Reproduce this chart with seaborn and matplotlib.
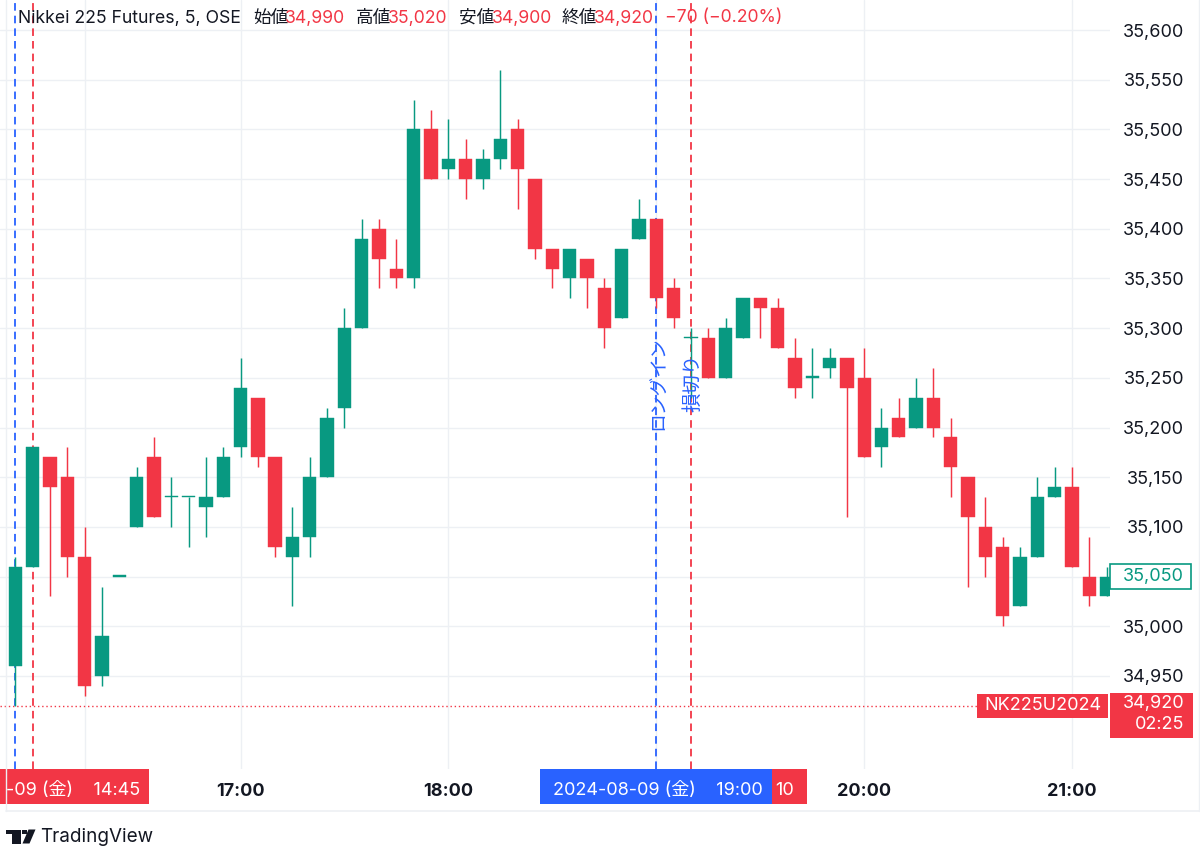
import numpy as np
import pandas as pd
import seaborn as sns
import matplotlib
matplotlib.use("Agg")
import matplotlib.pyplot as plt
from matplotlib.patches import Rectangle, Polygon
from matplotlib.transforms import blended_transform_factory

# ---------------- data ----------------
times = ["14:40", "14:45", "14:50", "14:55", "15:00", "15:05", "15:10",
         "16:30", "16:35", "16:40", "16:45", "16:50", "16:55",
         "17:00", "17:05", "17:10", "17:15", "17:20", "17:25", "17:30", "17:35", "17:40", "17:45", "17:50", "17:55",
         "18:00", "18:05", "18:10", "18:15", "18:20", "18:25", "18:30", "18:35", "18:40", "18:45", "18:50", "18:55",
         "19:00", "19:05", "19:10", "19:15", "19:20", "19:25", "19:30", "19:35", "19:40", "19:45", "19:50", "19:55",
         "20:00", "20:05", "20:10", "20:15", "20:20", "20:25", "20:30", "20:35", "20:40", "20:45", "20:50", "20:55",
         "21:00", "21:05", "21:10"]
opens = [34960, 35060, 35170, 35150, 35070, 34950, 35050,
         35100, 35170, 35130, 35130, 35120, 35130,
         35180, 35230, 35170, 35070, 35090, 35150, 35220, 35300, 35400, 35360, 35350, 35500,
         35460, 35470, 35450, 35470, 35500, 35450, 35380, 35350, 35370, 35340, 35310, 35390,
         35410, 35340, 35290, 35290, 35250, 35290, 35330, 35320, 35270, 35250, 35260, 35270,
         35250, 35180, 35210, 35200, 35230, 35190, 35150, 35100, 35080, 35020, 35070, 35130,
         35140, 35050, 35030]
highs = [35070, 35180, 35170, 35180, 35100, 35040, 35050,
         35160, 35190, 35150, 35130, 35170, 35180,
         35270, 35230, 35170, 35120, 35170, 35220, 35320, 35410, 35410, 35390, 35530, 35520,
         35510, 35490, 35480, 35560, 35510, 35450, 35380, 35380, 35370, 35350, 35380, 35430,
         35410, 35350, 35300, 35300, 35310, 35330, 35330, 35330, 35290, 35280, 35280, 35270,
         35280, 35220, 35230, 35250, 35260, 35210, 35150, 35130, 35090, 35080, 35150, 35160,
         35160, 35090, 35060]
lows = [34920, 35060, 35030, 35050, 34930, 34940, 35050,
        35100, 35110, 35100, 35080, 35090, 35130,
        35170, 35160, 35070, 35020, 35070, 35150, 35200, 35300, 35340, 35340, 35340, 35450,
        35450, 35430, 35440, 35460, 35420, 35370, 35340, 35330, 35320, 35280, 35310, 35390,
        35320, 35300, 35230, 35250, 35250, 35290, 35290, 35280, 35230, 35230, 35250, 35110,
        35170, 35160, 35190, 35200, 35190, 35130, 35040, 35050, 35000, 35020, 35070, 35130,
        35060, 35020, 35030]
closes = [35060, 35180, 35140, 35070, 34940, 34990, 35050,
          35150, 35110, 35130, 35130, 35130, 35170,
          35240, 35170, 35080, 35090, 35150, 35210, 35300, 35390, 35370, 35350, 35500, 35450,
          35470, 35450, 35470, 35490, 35460, 35380, 35360, 35380, 35350, 35300, 35380, 35410,
          35330, 35310, 35290, 35250, 35300, 35330, 35320, 35280, 35240, 35250, 35270, 35240,
          35170, 35200, 35190, 35230, 35200, 35160, 35110, 35070, 35010, 35070, 35130, 35140,
          35060, 35030, 35050]

price_ticks = [34950, 35000, 35050, 35100, 35150, 35200, 35250, 35300,
               35350, 35400, 35450, 35500, 35550, 35600]
hour_labels = ["17:00", "18:00", "20:00", "21:00"]
grid_times = ["15:00", "17:00", "18:00", "19:00", "20:00", "21:00"]

header_title = "Nikkei 225 Futures, 5, OSE"
header_names = ["始値", "高値", "安値", "終値"]
header_values = ["34,990", "35,020", "34,900", "34,920"]
header_change = "−70 (−0.20%)"

long_in_time, long_in_text = "19:00", "ロングイン"
stop_time, stop_text = "19:10", "損切り"
first_blue_time, first_red_time = "14:40", "14:45"
date_text = "2024-08-09 (金)"
left_box_text = "-09 (金)    14:45"
stop_box_visible = "10"
last_price = 34920
last_price_text = "34,920"
countdown = "02:25"
symbol = "NK225U2024"
marker_price = 35050
marker_text = "35,050"

# ---------------- style ----------------
sns.set_theme(style="white")
plt.rcParams["font.family"] = ["Inter", "Noto Sans CJK JP", "DejaVu Sans"]

GREEN = "#089981"
RED = "#F23645"
BLUE = "#2962FF"
DARK = "#131722"
GRID = "#EDF0F4"

W, H = 1200, 863
fig = plt.figure(figsize=(W / 100, H / 100), dpi=100)
fig.patch.set_facecolor("white")

def fx(x):
    return x / W

def fy(y):
    return 1 - y / H

ax = fig.add_axes([0, fy(769), fx(1110), 769 / H])
ax.set_facecolor("white")

df = pd.DataFrame({"time": times, "open": opens, "high": highs,
                   "low": lows, "close": closes})
df["idx"] = np.arange(len(df))
df["up"] = df["close"] >= df["open"]
df["color"] = np.where(df["up"], GREEN, RED)
pos = {t: i for i, t in enumerate(times)}

ax.set_xlim(-0.883, 63.19)
ax.set_ylim(34856.4, 35630.2)

# grid
for p in price_ticks:
    ax.axhline(p, color=GRID, lw=1.0, zorder=0)
for t in grid_times:
    ax.axvline(pos[t], color=GRID, lw=1.0, zorder=0)

# vertical marker lines (behind candles)
dash = (0, (4.2, 2.8))
for t in (first_blue_time, long_in_time):
    ax.axvline(pos[t], color=BLUE, lw=1.3, linestyle=dash, zorder=1)
for t in (first_red_time, stop_time):
    ax.axvline(pos[t], color=RED, lw=1.3, linestyle=dash, zorder=1)

# last price dotted line
ax.axhline(last_price, xmin=0, xmax=977 / 1110, color=RED, lw=1.0,
           linestyle=(0, (1, 2)), zorder=2)

# candles
ax.vlines(df["idx"], df["low"], df["high"], colors=df["color"], lw=1.05, zorder=3)
body_bottom = np.minimum(df["open"], df["close"])
body_h = np.maximum(np.abs(df["close"] - df["open"]), 1.4)
ax.bar(df["idx"], body_h, bottom=body_bottom, width=0.77, color=df["color"],
       edgecolor=df["color"], linewidth=0.3, zorder=4)

# rotated labels
ax.text(pos[long_in_time] + 0.22, 35245, long_in_text, rotation=90, color=BLUE,
        fontsize=13.5, ha="center", va="center", zorder=6)
ax.text(pos[stop_time] + 0.12, 35245, stop_text, rotation=90, color=BLUE,
        fontsize=14, ha="center", va="center", zorder=6)

# right price scale
ax.yaxis.tick_right()
ax.set_yticks(price_ticks)
ax.set_yticklabels([f"{p:,}" for p in price_ticks])
ax.tick_params(axis="y", length=0, pad=53.3, labelsize=13, labelcolor=DARK)
for lbl in ax.get_yticklabels():
    lbl.set_horizontalalignment("right")
ax.set_xticks([])
for s in ax.spines.values():
    s.set_visible(False)

bt_ax = blended_transform_factory(ax.transAxes, ax.transData)
bt_x = blended_transform_factory(ax.transData, ax.transAxes)

# price-axis markers
ax.add_patch(Rectangle((1.0, marker_price - 12), 1191 / 1110 - 1.0, 24.5,
                       transform=bt_ax, clip_on=False, facecolor="white",
                       edgecolor=GREEN, lw=1.2, zorder=7))
ax.text(1184 / 1110, marker_price, marker_text, transform=bt_ax, ha="right",
        va="center", color=GREEN, fontsize=13, zorder=8, clip_on=False)

ax.add_patch(Rectangle((1.0, last_price - 32.7), 1193 / 1110 - 1.0, 46,
                       transform=bt_ax, clip_on=False, facecolor=RED,
                       edgecolor="none", zorder=7))
ax.text(1184 / 1110, last_price + 2, last_price_text, transform=bt_ax, ha="right",
        va="center", color="white", fontsize=13, zorder=8, clip_on=False)
ax.text(1184 / 1110, last_price - 19, countdown, transform=bt_ax, ha="right",
        va="center", color="white", fontsize=13, zorder=8, clip_on=False)

ax.add_patch(Rectangle((977 / 1110, last_price - 12.4), (1108 - 977) / 1110, 24.7,
                       transform=bt_ax, clip_on=False, facecolor=RED,
                       edgecolor="none", zorder=7))
ax.text((977 + 1108) / 2 / 1110, last_price, symbol, transform=bt_ax, ha="center",
        va="center", color="white", fontsize=13, zorder=8)

# time axis labels
for lab in hour_labels:
    ax.text(pos[lab], -22 / 769, lab, transform=bt_x, ha="center", va="center",
            fontsize=13, fontweight="bold", color=DARK, clip_on=False)

box_w = 232 / 17.323
ty = -21 / 769
for t, col, z in ((first_red_time, RED, 9), (stop_time, RED, 9), (long_in_time, BLUE, 10)):
    ax.add_patch(Rectangle((pos[t] - box_w / 2, -35 / 769), box_w, 35 / 769,
                           transform=bt_x, clip_on=False, facecolor=col,
                           edgecolor="none", zorder=z))
# visible text in the boxes
ax.text(pos[long_in_time] + 0.08, ty, f"{date_text}    {long_in_time}", transform=bt_x,
        ha="center", va="center", fontsize=13, color="white", clip_on=False, zorder=11)
ax.text(pos[stop_time] + box_w / 2 - 13 / 17.323, ty, stop_box_visible, transform=bt_x,
        ha="right", va="center", fontsize=13, color="white", clip_on=False, zorder=11)
fig.text(fx(6), fy(790), left_box_text, ha="left", va="center", fontsize=13,
         color="white", zorder=11)

# chart frame lines
fig.add_artist(plt.Line2D([fx(6), fx(1199)], [fy(810.5), fy(810.5)], color=GRID, lw=1.2))
fig.add_artist(plt.Line2D([fx(6), fx(6)], [fy(0), fy(810.5)], color=GRID, lw=1.0))
fig.add_artist(plt.Line2D([fx(1199), fx(1199)], [fy(0), fy(810.5)], color=GRID, lw=1.0))

# header
fig.text(fx(18), fy(18), header_title, fontsize=12.7, color=DARK, va="center", ha="left")
name_x = [253, 356, 459, 562]
val_x = [285, 388, 492, 594]
for nx, vx, n, v in zip(name_x, val_x, header_names, header_values):
    fig.text(fx(nx), fy(18), n, fontsize=12.7, color=DARK, va="center", ha="left")
    fig.text(fx(vx), fy(18), v, fontsize=12.7, color=RED, va="center", ha="left")
fig.text(fx(665), fy(18), header_change, fontsize=12.7, color=RED, va="center", ha="left")

# TradingView logo
def P(x, y):
    return (fx(x), fy(y))

logo_kw = dict(transform=fig.transFigure, facecolor=DARK, edgecolor="none")
fig.add_artist(Polygon([P(6, 829.5), P(20.5, 829.5), P(20.5, 834), P(6, 834)], **logo_kw))
fig.add_artist(Polygon([P(12, 829.5), P(20.5, 829.5), P(20.5, 843.5), P(12, 843.5)], **logo_kw))
fig.add_artist(Polygon([P(28.5, 829.5), P(35.5, 829.5), P(29.5, 843.5), P(22.5, 843.5)], **logo_kw))
fig.add_artist(Polygon([P(22.3, 829.5), P(27, 829.5), P(27, 834.2), P(22.3, 834.2)], **logo_kw))
fig.text(fx(40.5), fy(837), "TradingView", fontsize=13.6, color=DARK, va="center", ha="left")

fig.savefig("out.png", dpi=100, facecolor="white")
